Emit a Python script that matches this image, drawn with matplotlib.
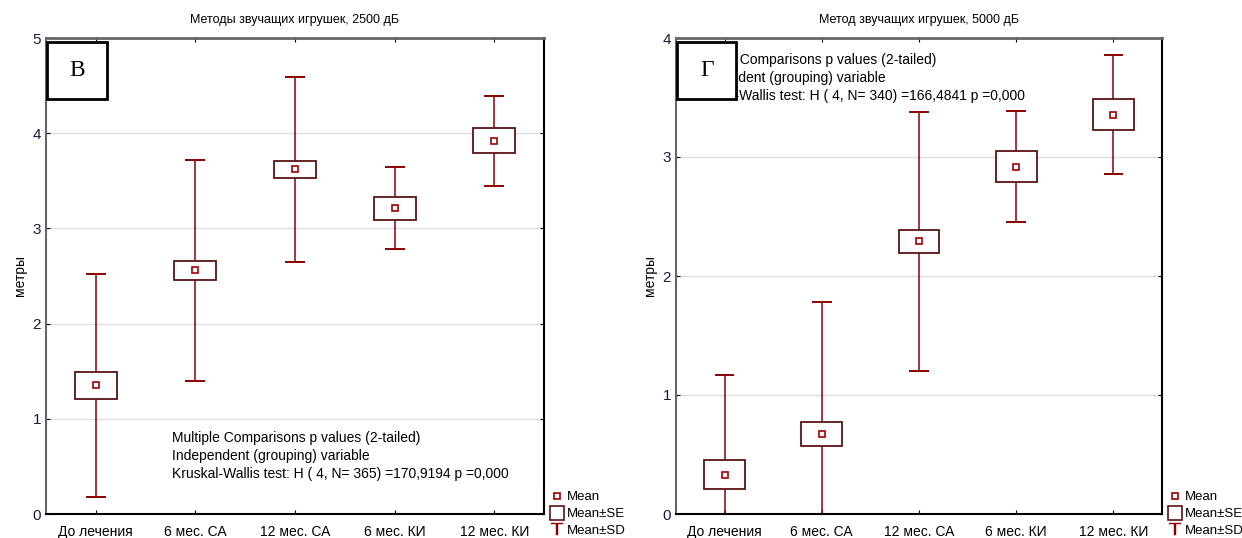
import numpy as np
import matplotlib
matplotlib.use('Agg')
import matplotlib.pyplot as plt
from matplotlib.patches import Rectangle
from matplotlib.lines import Line2D

plt.rcParams['font.family'] = ['Liberation Sans', 'DejaVu Sans']

groups = ['До лечения', '6 мес. СА', '12 мес. СА', '6 мес. КИ', '12 мес. КИ']

# 2500 дБ
mean_2500 = [1.35, 2.56, 3.62, 3.21, 3.92]
se_2500 = [0.14, 0.10, 0.09, 0.12, 0.13]
sd_2500 = [1.17, 1.16, 0.97, 0.43, 0.47]

# 5000 дБ
mean_5000 = [0.33, 0.67, 2.29, 2.92, 3.355]
se_5000 = [0.12, 0.10, 0.10, 0.13, 0.13]
sd_5000 = [0.84, 1.11, 1.09, 0.47, 0.50]

titles = ['Методы звучащих игрушек, 2500 дБ', 'Метод звучащих игрушек, 5000 дБ']
letters = ['В', 'Г']
stats_text = ('Multiple Comparisons p values (2-tailed)\n'
              'Independent (grouping) variable\n')
kw_tests = ['Kruskal-Wallis test: H ( 4, N= 365) =170,9194 p =0,000',
            'Kruskal-Wallis test: H ( 4, N= 340) =166,4841 p =0,000']

red = '#8b0000'
boxc = '#5a1414'

fig = plt.figure(figsize=(12.42, 5.38), dpi=100)
ax1 = fig.add_axes([46 / 1242, 24 / 538, 498 / 1242, 476 / 538])
ax2 = fig.add_axes([676 / 1242, 24 / 538, 486 / 1242, 476 / 538])


def draw_panel(ax, means, se, sd, ymax, title, letter, kw, text_pos):
    x = np.arange(len(groups))
    means = np.array(means)
    se = np.array(se)
    sd = np.array(sd)
    # усы: среднее +- SD
    ax.vlines(x, means - sd, means + sd, color=red, lw=1.1, zorder=2)
    ax.hlines(means + sd, x - 0.1, x + 0.1, color=red, lw=1.4, zorder=2)
    ax.hlines(means - sd, x - 0.1, x + 0.1, color=red, lw=1.4, zorder=2)
    # ящики: среднее +- SE
    for xi, m, s in zip(x, means, se):
        ax.add_patch(Rectangle((xi - 0.21, m - s), 0.42, 2 * s, facecolor='white',
                               edgecolor=boxc, lw=1.3, zorder=3))
    ax.plot(x, means, 's', ms=5, mfc='white', mec='#a00000', mew=1.2, zorder=4)

    ax.set_xlim(-0.5, len(groups) - 0.5)
    ax.set_ylim(0, ymax)
    ax.set_yticks(range(0, ymax + 1))
    ax.set_xticks(x)
    ax.set_xticklabels(groups, fontsize=10)
    ax.tick_params(axis='y', labelsize=11, labelcolor='#1a1a40', direction='in',
                   length=3, right=True)
    ax.tick_params(axis='x', direction='in', length=3, top=True, pad=8)
    for t in range(1, ymax):
        ax.axhline(t, color='#dddddd', lw=1, zorder=0)
    ax.spines['top'].set_color('#666666')
    ax.spines['top'].set_linewidth(2)
    ax.spines['left'].set_color('#666666')
    ax.spines['left'].set_linewidth(1.5)
    ax.spines['bottom'].set_linewidth(1.5)
    ax.spines['right'].set_linewidth(1.5)
    ax.set_title(title, fontsize=9, pad=11)
    ax.set_ylabel('метры', fontsize=10)

    ax.text(text_pos[0], text_pos[1], stats_text + kw, transform=ax.transAxes,
            fontsize=10, va='top', ha='left', linespacing=1.36, zorder=5)

    # буква панели в рамке
    bx, by = 0.003, (538 - 99 - 24) / 476
    ax.add_patch(Rectangle((bx, by), 60 / 498, 57 / 476,
                           transform=ax.transAxes, facecolor='white',
                           edgecolor='black', lw=2, zorder=6, clip_on=False))
    ax.text(bx + 30 / 498, by + 28 / 476, letter, transform=ax.transAxes,
            family='Liberation Serif', fontsize=17, ha='center', va='center',
            zorder=7)

    handles = [
        Line2D([], [], ls='none', marker='s', ms=5, mfc='white', mec='#a00000', mew=1.2),
        Line2D([], [], ls='none', marker='s', ms=10, mfc='white', mec=boxc, mew=1.2),
        Line2D([], [], ls='none', marker=r'$\top$', ms=9, mew=0.3, color=red),
    ]
    ax.legend(handles, ['Mean', 'Mean±SE', 'Mean±SD'], loc='lower left',
              bbox_to_anchor=(1.0, -0.065), frameon=False, fontsize=9.5,
              handlelength=0.8, handletextpad=0.3, labelspacing=0.35,
              borderaxespad=0.2)


draw_panel(ax1, mean_2500, se_2500, sd_2500, 5, titles[0], letters[0], kw_tests[0],
           (0.253, 0.175))
draw_panel(ax2, mean_5000, se_5000, sd_5000, 4, titles[1], letters[1], kw_tests[1],
           (0.024, 0.968))

fig.savefig('out.png', dpi=100)
